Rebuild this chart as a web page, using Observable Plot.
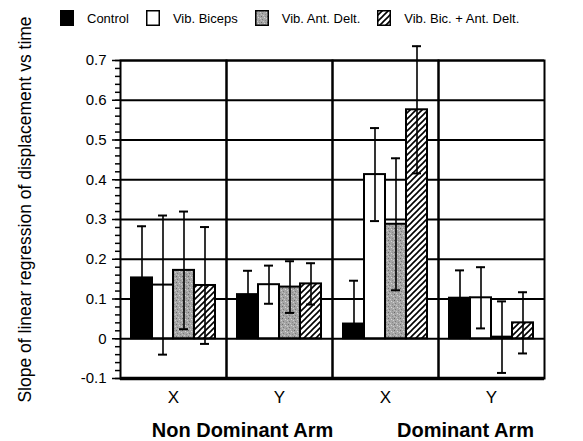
<!DOCTYPE html>
<html>
<head>
<meta charset="utf-8">
<script src="https://cdn.jsdelivr.net/npm/d3@7"></script>
<script src="https://cdn.jsdelivr.net/npm/@observablehq/plot@0.6"></script>
<style>
  body { margin: 0; background: white; }
  #wrap { position: relative; width: 583px; height: 441px; font-family: "Liberation Sans", Arial, Helvetica, sans-serif; }
  #legend { position: absolute; left: 60px; top: 10px; display: flex; align-items: center; font-size: 13px; color: black; }
  #legend span { margin-left: 13px; margin-right: 17px; }
  #legend svg { display: block; }
</style>
</head>
<body>
<div id="wrap"><div id="legend"></div></div>
<script>
// ---- data ----
const groupKeys = ["ND-X", "ND-Y", "D-X", "D-Y"];
const groupLabels = ["X", "Y", "X", "Y"];
const armLabels = ["Non Dominant Arm", "Dominant Arm"];
const conditions = ["Control", "Vib. Biceps", "Vib. Ant. Delt.", "Vib. Bic. + Ant. Delt."];
const controlMean  = [0.153, 0.111, 0.037, 0.102];
const controlErr   = [0.130, 0.060, 0.109, 0.070];
const bicepsMean   = [0.135, 0.136, 0.413, 0.103];
const bicepsErr    = [0.175, 0.048, 0.117, 0.077];
const antDeltMean  = [0.172, 0.130, 0.288, 0.004];
const antDeltErr   = [0.148, 0.065, 0.166, 0.090];
const combinedMean = [0.134, 0.138, 0.576, 0.040];
const combinedErr  = [0.147, 0.052, 0.160, 0.077];
// whether the lower whisker is drawn (the black Control bars show only the upper one)
const lowerWhisker = [false, true, true, true];
const yTicks = [-0.1, 0, 0.1, 0.2, 0.3, 0.4, 0.5, 0.6, 0.7];
const yMinorTicks = d3.range(-5, 36).map(i => i / 50);
const yLabel = "Slope of linear regression of displacement vs time";

const means = [controlMean, bicepsMean, antDeltMean, combinedMean];
const errs = [controlErr, bicepsErr, antDeltErr, combinedErr];
const rows = conditions.flatMap((c, ci) => groupKeys.map((g, gi) => ({
  group: g, cond: c, mean: means[ci][gi], err: errs[ci][gi], low: lowerWhisker[ci]
})));
const lowRows = rows.filter(d => d.low);
const fills = ["black", "white", "url(#stipple)", "url(#hatch)"];

const font = "Liberation Sans, Arial, Helvetica, sans-serif";

const chart = Plot.plot({
  width: 583,
  height: 441,
  marginTop: 60,
  marginBottom: 63,
  marginLeft: 118,
  marginRight: 38,
  style: { fontFamily: font, background: "white", color: "black" },
  fx: { domain: groupKeys, padding: 0 },
  x: { domain: conditions, paddingInner: 0, paddingOuter: 0.43, axis: null },
  y: { domain: [-0.1, 0.7] },
  color: { domain: conditions, range: fills },
  marks: [
    Plot.gridY(yTicks, { stroke: "black", strokeOpacity: 1, strokeWidth: 1.8 }),
    Plot.barY(rows, { fx: "group", x: "cond", y: "mean", fill: "cond", stroke: "black", strokeWidth: 2 }),
    Plot.ruleX(rows, { fx: "group", x: "cond", y1: d => d.low ? d.mean - d.err : d.mean, y2: d => d.mean + d.err, stroke: "black", strokeWidth: 1.6 }),
    Plot.tickY(rows, { fx: "group", x: "cond", y: d => d.mean + d.err, insetLeft: 6, insetRight: 6, stroke: "black", strokeWidth: 2 }),
    Plot.tickY(lowRows, { fx: "group", x: "cond", y: d => d.mean - d.err, insetLeft: 6, insetRight: 6, stroke: "black", strokeWidth: 2 }),
    Plot.frame({ stroke: "black", strokeWidth: 2 }),
    Plot.ruleY([-0.1], { stroke: "black", strokeWidth: 3.5 }),
    Plot.axisY(yTicks, { tickFormat: d => d === 0 ? "0" : d.toFixed(1), tickSize: 8, tickPadding: 6, fontSize: 15, strokeWidth: 1.5, label: null }),
    Plot.axisY(yMinorTicks, { tickSize: 5, tickFormat: () => "", strokeWidth: 1.5, label: null }),
    Plot.axisFx({ anchor: "bottom", tickSize: 0, tickPadding: 12, fontSize: 17, label: null, tickFormat: d => groupLabels[groupKeys.indexOf(d)] }),
    Plot.text([{ fx: groupKeys[0], t: yLabel }], { fx: "fx", text: "t", frameAnchor: "left", rotate: -90, textAnchor: "middle", lineAnchor: "middle", dx: -95, dy: -10, fontSize: 17.5, fill: "black" }),
    Plot.text([{ fx: groupKeys[1], t: armLabels[0] }], { fx: "fx", text: "t", frameAnchor: "bottom-left", textAnchor: "middle", lineAnchor: "middle", dx: 16, dy: 52, fontSize: 20, fontWeight: "bold", fill: "black" }),
    Plot.text([{ fx: groupKeys[3], t: armLabels[1] }], { fx: "fx", text: "t", frameAnchor: "bottom-left", textAnchor: "middle", lineAnchor: "middle", dx: 27, dy: 52, fontSize: 20, fontWeight: "bold", fill: "black" })
  ]
});

// patterns
const svg = d3.select(chart.tagName.toLowerCase() === "svg" ? chart : chart.querySelector("svg"));
const defs = svg.insert("defs", ":first-child");
const st = defs.append("pattern").attr("id", "stipple").attr("patternUnits", "userSpaceOnUse").attr("width", 6).attr("height", 6);
st.append("rect").attr("width", 6).attr("height", 6).attr("fill", "#a6a6a6");
[[0,0,"#6a6a6a"],[3,1,"#d6d6d6"],[1,3,"#7a7a7a"],[4,4,"#8a8a8a"],[5,2,"#cfcfcf"],[2,5,"#c8c8c8"],[4,0,"#909090"],[0,4,"#bcbcbc"]]
  .forEach(([x, y, c]) => st.append("rect").attr("x", x).attr("y", y).attr("width", 1).attr("height", 1).attr("fill", c));
const ht = defs.append("pattern").attr("id", "hatch").attr("patternUnits", "userSpaceOnUse").attr("width", 6).attr("height", 6);
ht.append("rect").attr("width", 6).attr("height", 6).attr("fill", "white");
ht.append("path").attr("d", "M-1,7 L7,-1 M-1,1 L1,-1 M5,7 L7,5").attr("stroke", "black").attr("stroke-width", 1.6);

document.getElementById("wrap").appendChild(chart);

// legend
const legend = d3.select("#legend");
conditions.forEach((c, i) => {
  const s = legend.append("svg").attr("width", 14).attr("height", 16);
  s.append("rect").attr("x", 0.75).attr("y", 0.75).attr("width", 12.5).attr("height", 14.5)
    .attr("fill", fills[i]).attr("stroke", "black").attr("stroke-width", 1.5);
  legend.append("span").text(c);
});
document.getElementById("wrap").appendChild(document.getElementById("legend"));
</script>
</body>
</html>
